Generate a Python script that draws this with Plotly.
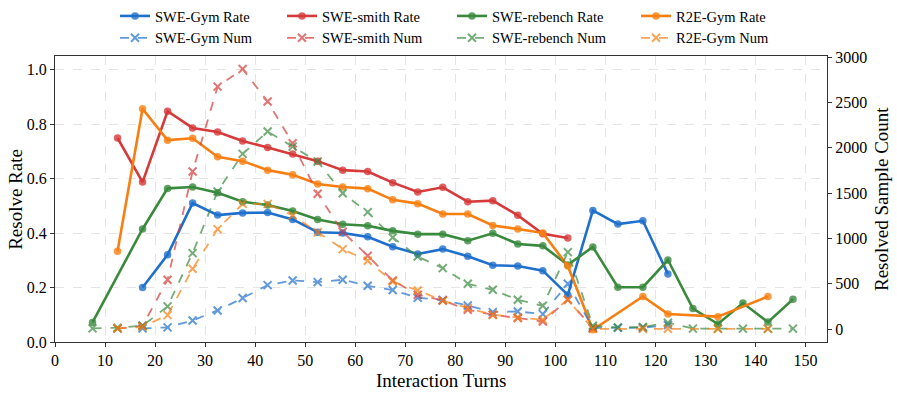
import plotly.graph_objects as go

# bins of interaction turns (centre of each 5-turn bucket)
gym_rate_x = [17.5, 22.5, 27.5, 32.5, 37.5, 42.5, 47.5, 52.5, 57.5, 62.5, 67.5,
              72.5, 77.5, 82.5, 87.5, 92.5, 97.5, 102.5, 107.5, 112.5, 117.5, 122.5]
gym_rate = [0.20, 0.32, 0.51, 0.466, 0.474, 0.475, 0.45, 0.403, 0.40, 0.386, 0.35,
            0.323, 0.341, 0.315, 0.282, 0.279, 0.262, 0.173, 0.483, 0.433, 0.445, 0.25]
gym_num = [7, 18, 95, 205, 342, 485, 536, 518, 544, 477, 430,
           345, 320, 260, 187, 194, 165, 500, 11, 15, 15, 45]

smith_x = [12.5, 17.5, 22.5, 27.5, 32.5, 37.5, 42.5, 47.5, 52.5, 57.5,
           62.5, 67.5, 72.5, 77.5, 82.5, 87.5, 92.5, 97.5, 102.5]
smith_rate = [0.749, 0.587, 0.847, 0.786, 0.771, 0.738, 0.714, 0.69, 0.664, 0.631,
              0.626, 0.585, 0.551, 0.568, 0.515, 0.519, 0.465, 0.397, 0.382]
smith_num_x = smith_x + [107.5]
smith_num = [5, 36, 544, 1738, 2675, 2870, 2510, 2051, 1492, 1073,
             808, 536, 378, 315, 213, 158, 121, 84, 323, 11]

rebench_rate_x = [7.5, 17.5, 22.5, 27.5, 32.5, 37.5, 42.5, 47.5, 52.5, 57.5,
                  62.5, 67.5, 72.5, 77.5, 82.5, 87.5, 92.5, 97.5, 102.5, 107.5,
                  112.5, 117.5, 122.5, 127.5, 132.5, 137.5, 142.5, 147.5]
rebench_rate = [0.072, 0.415, 0.564, 0.569, 0.548, 0.515, 0.503, 0.481, 0.45, 0.432,
                0.427, 0.408, 0.396, 0.396, 0.372, 0.399, 0.36, 0.353, 0.283, 0.349,
                0.201, 0.201, 0.301, 0.123, 0.066, 0.143, 0.073, 0.157]
rebench_num_x = [7.5, 12.5, 17.5, 22.5, 27.5, 32.5, 37.5, 42.5, 47.5, 52.5,
                 57.5, 62.5, 67.5, 72.5, 77.5, 82.5, 87.5, 92.5, 97.5, 102.5,
                 107.5, 112.5, 117.5, 122.5, 127.5, 132.5, 137.5, 142.5, 147.5]
rebench_num = [7, 15, 36, 250, 838, 1517, 1933, 2179, 2013, 1848,
               1499, 1290, 1010, 800, 672, 499, 433, 323, 257, 849,
               36, 18, 22, 70, 5, 5, 5, 5, 5]

r2e_x = [12.5, 17.5, 22.5, 27.5, 32.5, 37.5, 42.5, 47.5, 52.5, 57.5,
         62.5, 67.5, 72.5, 77.5, 82.5, 87.5, 92.5, 97.5, 102.5, 107.5,
         117.5, 122.5, 132.5, 142.5]
r2e_rate = [0.333, 0.856, 0.741, 0.748, 0.68, 0.664, 0.631, 0.614, 0.58, 0.569,
            0.563, 0.522, 0.508, 0.47, 0.47, 0.428, 0.415, 0.40, 0.279, 0.045,
            0.167, 0.103, 0.093, 0.167]
r2e_num = [7, 25, 154, 665, 1103, 1381, 1381, 1253, 1069, 882,
           753, 525, 426, 315, 231, 158, 128, 103, 323, 2,
           2, 3, 2, 2]

colors = {"gym": "#1f6fcc", "smith": "#d63a3a", "rebench": "#3a8a3e", "r2e": "#f77f12"}
FONT = "Liberation Serif"

# each dataset gets its own legend column (legend id, column left px)
series = [
    ("SWE-Gym", gym_rate_x, gym_rate, gym_rate_x, gym_num, colors["gym"], "legend", 115),
    ("SWE-smith", smith_x, smith_rate, smith_num_x, smith_num, colors["smith"], "legend2", 282),
    ("SWE-rebench", rebench_rate_x, rebench_rate, rebench_num_x, rebench_num, colors["rebench"], "legend3", 452),
    ("R2E-Gym", r2e_x, r2e_rate, r2e_x, r2e_num, colors["r2e"], "legend4", 636),
]

fig = go.Figure()

# dashed count lines first so the rate lines sit on top
for name, rx, ry, nx, ny, c, leg, _ in series:
    fig.add_trace(go.Scatter(
        x=nx, y=ny, name=name + " Num", yaxis="y2", legend=leg, legendrank=2,
        mode="lines+markers", opacity=0.7,
        line=dict(color=c, width=1.8, dash="dash"),
        marker=dict(symbol="x-thin-open", size=8, color=c, line=dict(color=c, width=2)),
    ))
for name, rx, ry, nx, ny, c, leg, _ in series:
    fig.add_trace(go.Scatter(
        x=rx, y=ry, name=name + " Rate", yaxis="y", legend=leg, legendrank=1,
        mode="lines+markers",
        line=dict(color=c, width=2.6),
        marker=dict(symbol="circle", size=7.5, color=c, opacity=0.8),
    ))

legends = {}
for name, rx, ry, nx, ny, c, leg, left in series:
    legends[leg] = dict(
        orientation="v", xref="container", yref="container",
        x=left / 897, xanchor="left", y=1.0, yanchor="top",
        font=dict(family=FONT, size=14.5, color="black"),
        bgcolor="rgba(0,0,0,0)", itemwidth=30, tracegroupgap=0,
    )

axis_common = dict(
    showline=True, linecolor="#333", linewidth=1.3,
    ticks="outside", ticklen=4, tickcolor="#333",
    tickfont=dict(family=FONT, size=16),
    zeroline=False, automargin=False,
)

fig.update_layout(
    width=897, height=393,
    paper_bgcolor="white", plot_bgcolor="white",
    margin=dict(l=55, r=70, t=56, b=51, autoexpand=False),
    font=dict(family=FONT, size=16, color="black"),
    xaxis=dict(
        axis_common,
        range=[0, 154.3], dtick=10, tick0=0, mirror=True,
        showgrid=True, gridcolor="#e4e4e4", griddash="dash", gridwidth=0.8,
    ),
    yaxis=dict(
        axis_common,
        range=[0, 1.05], dtick=0.2, tickformat=".1f", mirror=True,
        showgrid=True, gridcolor="#e4e4e4", griddash="dash", gridwidth=0.8,
    ),
    yaxis2=dict(
        axis_common,
        overlaying="y", side="right", range=[-143, 3013], dtick=500, tick0=0,
        showgrid=False,
    ),
    **legends,
)

# axis titles as annotations so they stay where the reference has them
title_font = dict(family=FONT, size=19, color="black")
fig.add_annotation(text="Interaction Turns", xref="paper", yref="paper",
                   x=0.5, y=-0.135, xanchor="center", yanchor="middle",
                   showarrow=False, font=title_font)
fig.add_annotation(text="Resolve Rate", xref="paper", yref="paper",
                   x=-0.052, y=0.5, xanchor="center", yanchor="middle",
                   textangle=-90, showarrow=False, font=title_font)
fig.add_annotation(text="Resolved Sample Count", xref="paper", yref="paper",
                   x=1.07, y=0.5, xanchor="center", yanchor="middle",
                   textangle=-90, showarrow=False, font=title_font)

# the page body has a default 8px margin; drop it so the figure sits at the corner
fig.write_html("out.html", config={"displayModeBar": False},
               post_script="document.body.style.margin='0';")
